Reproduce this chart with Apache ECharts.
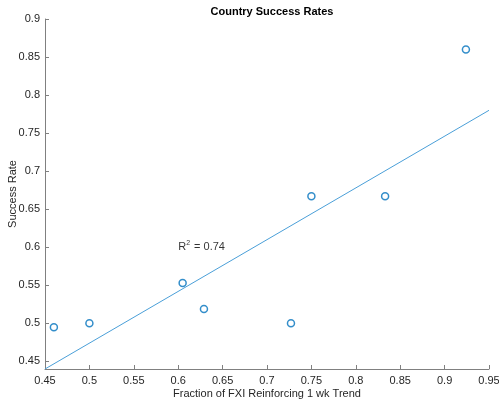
<!DOCTYPE html>
<html>
<head>
<meta charset="utf-8">
<script src="https://cdn.jsdelivr.net/npm/echarts@6/dist/echarts.min.js"></script>
<style>html,body{margin:0;padding:0;background:#fff;}#c{width:499px;height:400px;}</style>
</head>
<body>
<div id="c"></div>
<script>
const xValues = [0.460, 0.500, 0.605, 0.629, 0.727, 0.750, 0.833, 0.924];
const yValues = [0.495, 0.500, 0.553, 0.519, 0.500, 0.667, 0.667, 0.860];
const fitX = [0.45, 0.95];
const fitY = [0.44, 0.78];
const xTicks = [0.45, 0.5, 0.55, 0.6, 0.65, 0.7, 0.75, 0.8, 0.85, 0.9, 0.95];
const yTicks = [0.45, 0.5, 0.55, 0.6, 0.65, 0.7, 0.75, 0.8, 0.85, 0.9];
const annX = 0.6, annY = 0.6, annText = '0.74';

const font = '"Liberation Sans", Arial, Helvetica, sans-serif';
const fmt = v => String(+(+v).toFixed(2));
const axisCol = '#808080';
const textCol = '#262626';

const chart = echarts.init(document.getElementById('c'), null, {renderer: 'canvas'});
chart.setOption({
  animation: false,
  backgroundColor: '#fff',
  title: {
    text: 'Country Success Rates',
    left: 267, top: 1, textAlign: 'center',
    textStyle: {fontFamily: font, fontSize: 11, fontWeight: 'bold', color: '#000'}
  },
  grid: {left: 45, right: 10, top: 19, bottom: 31, containLabel: false, outerBoundsMode: 'none'},
  xAxis: {
    type: 'value', min: 0.45, max: 0.95, interval: 0.05,
    name: 'Fraction of FXI Reinforcing 1 wk Trend',
    nameLocation: 'middle', nameGap: 19, nameMoveOverlap: false,
    nameTextStyle: {fontFamily: font, fontSize: 11, color: textCol},
    axisLine: {show: true, lineStyle: {color: axisCol, width: 1}},
    axisTick: {show: true, inside: true, length: 4, lineStyle: {color: axisCol}},
    axisLabel: {fontFamily: font, fontSize: 11, color: textCol, margin: 6, formatter: fmt},
    splitLine: {show: false}
  },
  yAxis: {
    type: 'value', min: 0.44, max: 0.9,
    name: 'Success Rate',
    nameLocation: 'middle', nameGap: 27, nameRotate: 90, nameMoveOverlap: false,
    nameTextStyle: {fontFamily: font, fontSize: 11, color: textCol},
    axisLine: {show: true, lineStyle: {color: axisCol, width: 1}},
    axisTick: {show: true, inside: true, length: 4, lineStyle: {color: axisCol}, customValues: yTicks},
    axisLabel: {fontFamily: font, fontSize: 11, color: textCol, margin: 5, formatter: fmt, customValues: yTicks},
    splitLine: {show: false}
  },
  series: [
    {
      type: 'line',
      data: fitX.map((x, i) => [x, fitY[i]]),
      showSymbol: false,
      lineStyle: {color: '#4a9fd8', width: 1},
      z: 1
    },
    {
      type: 'scatter',
      data: xValues.map((x, i) => [x, yValues[i]]),
      symbol: 'circle',
      symbolSize: 7,
      itemStyle: {color: 'rgba(0,0,0,0)', borderColor: '#0072BD', borderWidth: 1.5},
      z: 3
    },
    {
      type: 'scatter',
      data: [[annX, annY]],
      symbolSize: 0,
      silent: true,
      label: {
        show: true, position: 'right', distance: 0,
        formatter: '{b|R}{s|2}{b| = ' + annText + '}',
        rich: {
          b: {fontFamily: font, fontSize: 11, color: '#000'},
          s: {fontFamily: font, fontSize: 7, color: '#000', verticalAlign: 'top', padding: [0, 1, 8, 0]}
        }
      },
      z: 4
    }
  ]
});
</script>
</body>
</html>
